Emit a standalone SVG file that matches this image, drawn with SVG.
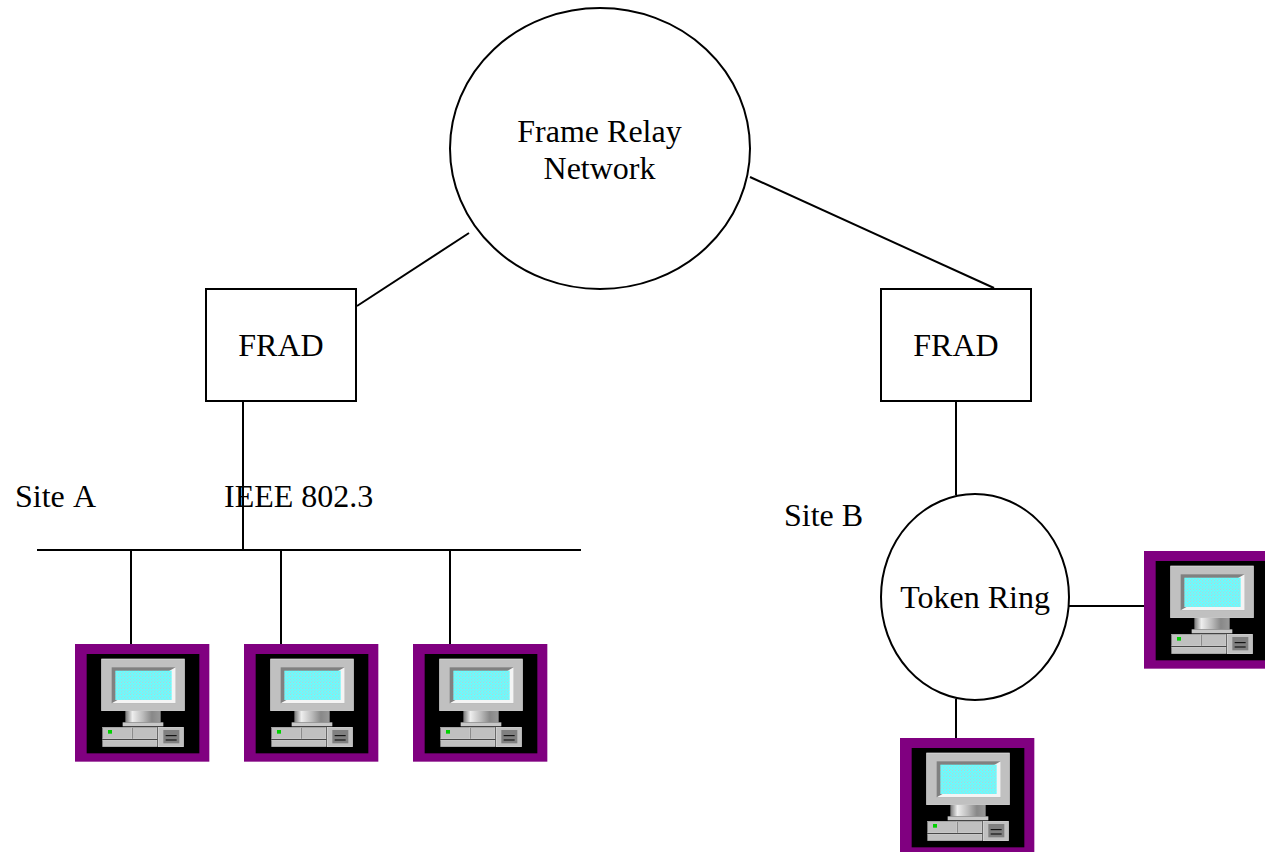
<svg xmlns="http://www.w3.org/2000/svg" xmlns:xlink="http://www.w3.org/1999/xlink" width="1265" height="852" viewBox="0 0 1265 852">
<style>
.s{fill:#fff;stroke:#000;stroke-width:2}
.l{stroke:#000;stroke-width:2;fill:none}
text{font-family:"Liberation Serif","Times New Roman",serif;font-size:32px;fill:#000}
.m{text-anchor:middle}
</style>
<defs>
<pattern id="dither" width="18" height="18" patternUnits="userSpaceOnUse">
<rect width="18" height="18" fill="#66ffff"/>
<path d="M0 0h3v3h-3zM9 0h3v3h-3zM4 5h3v3h-3zM13 5h3v3h-3zM0 10h3v3h-3zM9 10h3v3h-3zM4 14h3v3h-3zM13 14h3v3h-3z" fill="#c0c8d0"/>
</pattern>
<linearGradient id="neck" x1="0" x2="1" y1="0" y2="0">
<stop offset="0" stop-color="#777"/><stop offset=".2" stop-color="#eee"/><stop offset=".5" stop-color="#bbb"/><stop offset=".75" stop-color="#888"/><stop offset="1" stop-color="#999"/>
</linearGradient>
<symbol id="pc" width="145" height="125" viewBox="0 0 435 375" overflow="visible">
<rect x="15" y="12" width="403" height="353" fill="#800080"/>
<rect x="50" y="42" width="338" height="298" fill="#000"/>
<rect x="95" y="57" width="248" height="155" fill="#c0c0c0" stroke="#e8e8e8" stroke-width="2"/>
<rect x="125" y="82" width="192" height="108" fill="#808080"/>
<path d="M317 82v108h-192z" fill="#f4f4f4"/>
<rect x="136" y="92" width="169" height="88" fill="url(#dither)"/>
<rect x="166" y="213" width="106" height="34" fill="url(#neck)"/>
<rect x="158" y="247" width="122" height="12" fill="#c8c8c8"/>
<rect x="98" y="262" width="88" height="35" fill="#c0c0c0" stroke="#eee"/>
<rect x="188" y="262" width="73" height="35" fill="#c0c0c0" stroke="#eee"/>
<rect x="98" y="300" width="163" height="20" fill="#c0c0c0" stroke="#eee"/>
<rect x="264" y="262" width="76" height="58" fill="#c0c0c0" stroke="#eee" stroke-width="2"/>
<rect x="280" y="270" width="48" height="40" fill="#808080"/>
<path d="M287 287h33M287 300h33" stroke="#000" stroke-width="3"/>
<rect x="114" y="270" width="12" height="11" fill="#00d000"/>
</symbol>
</defs>
<g id="connectors">
<path class="l" d="M357 306L469 233"/>
<path class="l" d="M750 177L994 288"/>
<path class="l" d="M243 401V550"/>
<path class="l" d="M37 550H581"/>
<path class="l" d="M131 550V644"/>
<path class="l" d="M281 550V644"/>
<path class="l" d="M450 550V644"/>
<path class="l" d="M956 401V495"/>
<path class="l" d="M1069 606H1144"/>
<path class="l" d="M956 699V738"/>
</g>
<g id="cloud"><ellipse class="s" cx="600" cy="148.500" rx="150" ry="140.500"/>
<text class="m" x="599.500" y="142">Frame Relay</text><text class="m" x="599.500" y="179">Network</text></g>
<g id="frad-a"><rect class="s" x="206" y="289" width="150" height="112"/><text class="m" x="281" y="356">FRAD</text></g>
<g id="frad-b"><rect class="s" x="881" y="289" width="150" height="112"/><text class="m" x="956" y="356">FRAD</text></g>
<g id="site-a"><text x="15" y="507" word-spacing="2">Site A</text></g>
<g id="ieee"><text x="224" y="507">IEEE 802.3</text></g>
<g id="site-b"><text x="784" y="526">Site B</text></g>
<g id="ring"><ellipse class="s" cx="975" cy="597" rx="94" ry="103"/><text class="m" x="975" y="608">Token Ring</text></g>
<g id="pc-a1"><use href="#pc" x="70" y="640"/></g>
<g id="pc-a2"><use href="#pc" x="239" y="640"/></g>
<g id="pc-a3"><use href="#pc" x="408" y="640"/></g>
<g id="pc-b1"><use href="#pc" x="895" y="734"/></g>
<g id="pc-b2"><use href="#pc" x="1139" y="547"/></g>
</svg>
